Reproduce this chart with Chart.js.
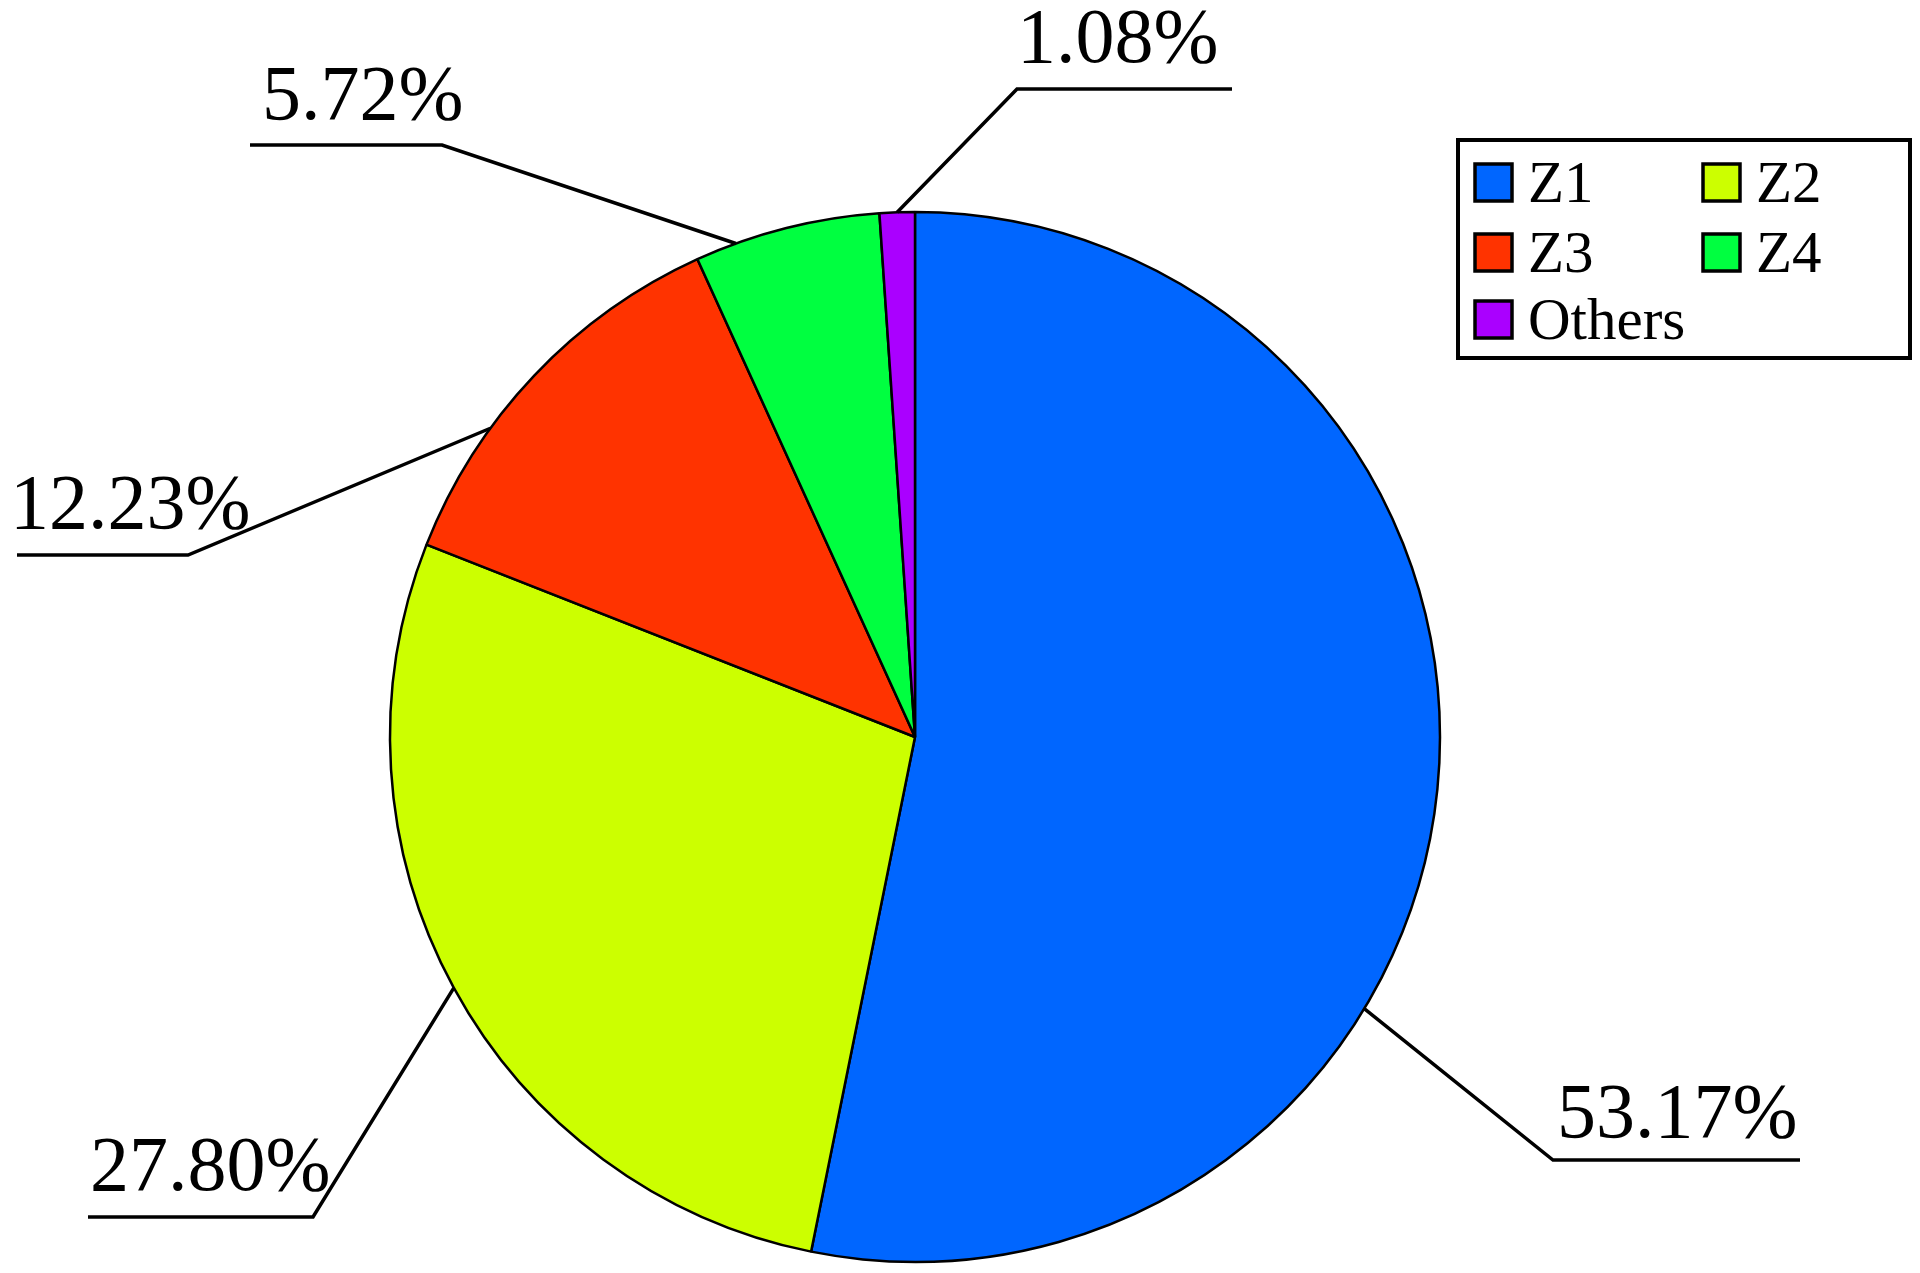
<!DOCTYPE html>
<html>
<head>
<meta charset="utf-8">
<title>Zone share</title>
<script src="https://cdn.jsdelivr.net/npm/chart.js@4.4.1/dist/chart.umd.min.js"></script>
<style>
  html, body { margin: 0; padding: 0; background: #fff; }
  #wrap { width: 1920px; height: 1273px; position: relative; }
</style>
</head>
<body>
<div id="wrap"><canvas id="grafico"></canvas></div>
<script>
// data
const zonas = ['Z1', 'Z2', 'Z3', 'Z4', 'Others']
const percent = [53.17, 27.80, 12.23, 5.72, 1.08]
const cores = ['#0066ff', '#ccff00', '#ff3300', '#00ff40', '#aa00ff']

// where each leader line leaves its slice (fraction of the slice angle),
// where it bends, where it ends and where the text sits
const ancora = [0.633, 0.5, 0.33, 0.22, 0.5]
const cotovelo = [[1553, 1160], [313, 1217], [188, 555], [442, 145], [1017, 89]]
const fimLinha = [1800, 88, 17, 250, 1232]
const textoPos = [[1557, 1137], [90, 1190], [10, 528], [262, 119], [1017, 62]]

const fonte = "'Liberation Serif', 'Times New Roman', serif"

const linhasGuia = {
  id: 'linhasGuia',
  afterDraw(chart) {
    const c = chart.ctx
    const arcs = chart.getDatasetMeta(0).data
    c.save()
    c.strokeStyle = '#000'
    c.lineWidth = 3.5
    c.lineJoin = 'miter'
    c.fillStyle = '#000'
    c.font = '78px ' + fonte
    c.textAlign = 'left'
    c.textBaseline = 'alphabetic'
    arcs.forEach((arc, i) => {
      const p = arc.getProps(['x', 'y', 'startAngle', 'endAngle', 'outerRadius'], true)
      const ang = p.startAngle + ancora[i] * (p.endAngle - p.startAngle)
      const ax = p.x + Math.cos(ang) * p.outerRadius
      const ay = p.y + Math.sin(ang) * p.outerRadius
      c.fillText(percent[i].toFixed(2) + '%', textoPos[i][0], textoPos[i][1])
      c.beginPath()
      c.moveTo(ax, ay)
      c.lineTo(cotovelo[i][0], cotovelo[i][1])
      c.lineTo(fimLinha[i], cotovelo[i][1])
      c.stroke()
    })
    c.restore()
  }
}

const legendaCaixa = {
  id: 'legendaCaixa',
  afterDraw(chart) {
    const c = chart.ctx
    c.save()
    // box
    c.strokeStyle = '#000'
    c.lineWidth = 4
    c.fillStyle = '#fff'
    c.fillRect(1458, 140, 452, 218)
    c.strokeRect(1458, 140, 452, 218)
    c.font = '59px ' + fonte
    c.textBaseline = 'alphabetic'
    const colX = [1475, 1703]
    const rowY = [164, 234, 301]
    zonas.forEach((z, i) => {
      const x = colX[i % 2]
      const y = rowY[Math.floor(i / 2)]
      c.fillStyle = cores[i]
      c.fillRect(x, y, 37, 37)
      c.lineWidth = 3.5
      c.strokeRect(x, y, 37, 37)
      c.fillStyle = '#000'
      c.fillText(z, x + 53, y + 38)
    })
    c.restore()
  }
}

const ctx = document.getElementById('grafico')

new Chart(ctx, {
  type: 'pie',
  data: {
    labels: zonas,
    datasets: [{
      data: percent,
      backgroundColor: cores,
      borderColor: '#000',
      borderWidth: 2.5
    }]
  },
  options: {
    responsive: true,
    maintainAspectRatio: false,
    animation: false,
    radius: 525,
    layout: {
      padding: { left: 385, right: 475, top: 206, bottom: 5 }
    },
    plugins: {
      legend: { display: false },
      tooltip: { enabled: false }
    }
  },
  plugins: [linhasGuia, legendaCaixa]
})
</script>
</body>
</html>
